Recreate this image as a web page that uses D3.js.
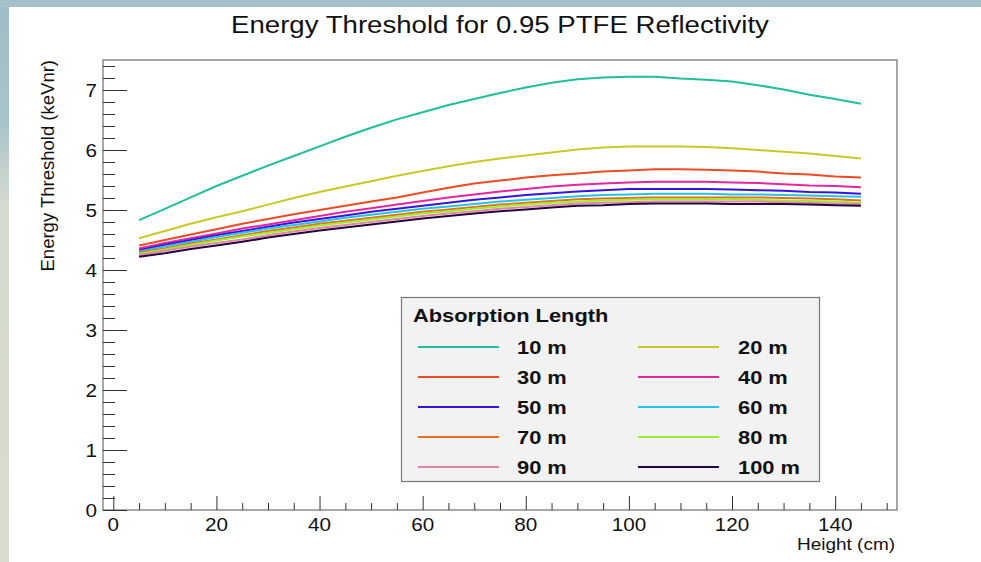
<!DOCTYPE html>
<html>
<head>
<meta charset="utf-8">
<script src="https://cdn.jsdelivr.net/npm/d3@7"></script>
<style>
html,body{margin:0;padding:0;background:#fff;}
svg{display:block;}
text{font-family:"Liberation Sans",Arial,Helvetica,sans-serif;}
</style>
</head>
<body>
<svg id="chart" width="981" height="562"></svg>
<script>
// ---- data ----
const heights = [5,10,15,20,25,30,35,40,45,50,55,60,65,70,75,80,85,90,95,100,105,110,115,120,125,130,135,140,145];
const seriesNames = ["10 m","20 m","30 m","40 m","50 m","60 m","70 m","80 m","90 m","100 m"];
const seriesColors = ["#1fbf9c","#c9c925","#f04a22","#e8259e","#3a12e0","#22c4ee","#e4701e","#9cef2e","#df86a8","#24063f"];
const s10  = [4.83,5.02,5.21,5.40,5.57,5.74,5.90,6.06,6.22,6.37,6.51,6.63,6.75,6.85,6.95,7.04,7.12,7.18,7.21,7.22,7.22,7.19,7.17,7.14,7.08,7.01,6.92,6.85,6.77];
const s20  = [4.53,4.65,4.77,4.88,4.98,5.09,5.20,5.30,5.39,5.48,5.57,5.65,5.73,5.80,5.86,5.91,5.96,6.01,6.04,6.06,6.06,6.06,6.05,6.03,6.00,5.97,5.94,5.90,5.86];
const s30  = [4.41,4.50,4.59,4.68,4.77,4.85,4.93,5.00,5.07,5.14,5.21,5.29,5.37,5.44,5.49,5.54,5.58,5.61,5.64,5.66,5.68,5.68,5.67,5.66,5.64,5.61,5.59,5.56,5.54];
const s40  = [4.36,4.45,4.53,4.61,4.69,4.76,4.83,4.90,4.97,5.03,5.09,5.15,5.21,5.26,5.31,5.35,5.39,5.42,5.44,5.46,5.47,5.47,5.47,5.46,5.45,5.43,5.41,5.40,5.38];
const s50  = [4.33,4.42,4.50,4.58,4.65,4.72,4.79,4.85,4.91,4.97,5.02,5.07,5.12,5.17,5.21,5.25,5.28,5.31,5.33,5.35,5.35,5.35,5.35,5.34,5.33,5.32,5.30,5.29,5.27];
const s60  = [4.31,4.39,4.47,4.55,4.62,4.69,4.75,4.81,4.87,4.92,4.97,5.02,5.06,5.10,5.14,5.17,5.20,5.23,5.25,5.26,5.27,5.27,5.27,5.26,5.26,5.25,5.24,5.23,5.22];
const s70  = [4.29,4.36,4.44,4.51,4.58,4.65,4.71,4.77,4.82,4.87,4.92,4.97,5.01,5.05,5.09,5.12,5.15,5.18,5.19,5.20,5.21,5.21,5.21,5.21,5.21,5.20,5.19,5.18,5.16];
const s80  = [4.27,4.34,4.42,4.49,4.56,4.62,4.68,4.74,4.79,4.84,4.89,4.94,4.98,5.02,5.06,5.09,5.12,5.14,5.16,5.17,5.18,5.18,5.18,5.18,5.17,5.16,5.15,5.14,5.12];
const s90  = [4.25,4.32,4.39,4.45,4.51,4.58,4.64,4.70,4.75,4.80,4.85,4.90,4.94,4.98,5.02,5.05,5.08,5.11,5.12,5.13,5.14,5.14,5.14,5.14,5.14,5.13,5.12,5.11,5.10];
const s100 = [4.22,4.28,4.35,4.41,4.47,4.54,4.60,4.66,4.71,4.76,4.81,4.86,4.90,4.94,4.98,5.01,5.04,5.07,5.08,5.10,5.11,5.11,5.11,5.10,5.10,5.10,5.09,5.08,5.07];
const seriesValues = [s10,s20,s30,s40,s50,s60,s70,s80,s90,s100];
const xTickValues = [0,20,40,60,80,100,120,140];
const yTickValues = [0,1,2,3,4,5,6,7];
const titleText = "Energy Threshold for 0.95 PTFE Reflectivity";
const xTitle = "Height (cm)";
const yTitle = "Energy Threshold (keVnr)";
const legendTitle = "Absorption Length";

// ---- layout ----
const svg = d3.select("#chart");
const W = 981, H = 562;
const L = 103, R = 897, T = 60, B = 510;
const SX = 1.15; // horizontal stretch of the text in the picture

function txt(parent, px, py, str, size, anchor, bold){
  return parent.append("text")
    .attr("transform",`translate(${px},${py}) scale(${SX},1)`)
    .attr("text-anchor",anchor||"start")
    .attr("font-size",size)
    .attr("font-weight",bold?"bold":"normal")
    .attr("fill","#111").text(str);
}

// background decoration (slide border)
const defs = svg.append("defs");
const g1 = defs.append("linearGradient").attr("id","lg").attr("x1",0).attr("y1",0).attr("x2",0).attr("y2",1);
g1.append("stop").attr("offset","0").attr("stop-color","#9fbcc6");
g1.append("stop").attr("offset","0.22").attr("stop-color","#a9c3ca");
g1.append("stop").attr("offset","0.36").attr("stop-color","#d5dad0");
g1.append("stop").attr("offset","1").attr("stop-color","#d9dccf");
svg.append("rect").attr("x",0).attr("y",0).attr("width",W).attr("height",H).attr("fill","#ffffff");
svg.append("rect").attr("x",0).attr("y",0).attr("width",9).attr("height",H).attr("fill","url(#lg)");
svg.append("rect").attr("x",0).attr("y",0).attr("width",W).attr("height",7).attr("fill","#a5c1c9");

const x = d3.scaleLinear().domain([-2,152]).range([L,R]);
const y = d3.scaleLinear().domain([0,7.5]).range([B,T]);

// frame
svg.append("rect").attr("x",L).attr("y",T).attr("width",R-L).attr("height",B-T)
  .attr("fill","none").attr("stroke","#6e6e6e").attr("stroke-width",1.2);

// x axis
const xMinor = d3.range(0,151,5).filter(v=>v%20!==0);
const xAxisMajor = d3.axisTop(x).tickValues(xTickValues).tickSize(14).tickFormat("");
const xAxisMinor = d3.axisTop(x).tickValues(xMinor).tickSize(7).tickFormat("");
[xAxisMajor,xAxisMinor].forEach(ax=>{
  const g = svg.append("g").attr("transform",`translate(0,${B})`).call(ax);
  g.select(".domain").remove();
  g.selectAll("line").attr("stroke","#333").attr("stroke-width",1);
});
const xl = svg.append("g");
xTickValues.forEach(v=>txt(xl, x(v), B+21, String(v), 18, "middle"));

// y axis
const yMinor = d3.range(0,7.5,0.2).map(v=>+v.toFixed(1)).filter(v=>Math.abs(v-Math.round(v))>1e-6);
const yAxisMajor = d3.axisRight(y).tickValues(yTickValues).tickSize(24).tickFormat("");
const yAxisMinor = d3.axisRight(y).tickValues(yMinor).tickSize(12).tickFormat("");
[yAxisMajor,yAxisMinor].forEach(ax=>{
  const g = svg.append("g").attr("transform",`translate(${L},0)`).call(ax);
  g.select(".domain").remove();
  g.selectAll("line").attr("stroke","#333").attr("stroke-width",1);
});
const yl = svg.append("g");
yTickValues.forEach(v=>txt(yl, L-6, y(v)+6.5, String(v), 18, "end"));

// titles
txt(svg, 500, 33, titleText, 24, "middle");
txt(svg, R-2, 550, xTitle, 16.5, "end");
svg.append("text").attr("transform",`translate(54,${T}) rotate(-90)`).attr("text-anchor","end")
  .attr("font-size",18.5).attr("fill","#111").text(yTitle);

// lines
const line = d3.line().x((d,i)=>x(heights[i])).y(d=>y(d));
svg.append("g").selectAll("path").data(seriesValues).join("path")
  .attr("d",d=>line(d)).attr("fill","none")
  .attr("stroke",(d,i)=>seriesColors[i]).attr("stroke-width",2)
  .attr("stroke-linejoin","round");

// legend
const lg = svg.append("g");
lg.append("rect").attr("x",401.5).attr("y",297.5).attr("width",418).attr("height",184)
  .attr("fill","#f2f2f2").attr("stroke","#777").attr("stroke-width",1.2);
txt(lg, 413, 322, legendTitle, 19, "start", true);
seriesNames.forEach((nm,i)=>{
  const col = i%2, row = Math.floor(i/2);
  const ly = 347 + row*30;
  const lx0 = col===0 ? 418 : 638;
  lg.append("line").attr("x1",lx0).attr("x2",lx0+81).attr("y1",ly).attr("y2",ly)
    .attr("stroke",seriesColors[i]).attr("stroke-width",2);
  txt(lg, col===0?517:738, ly+7, nm, 19, "start", true);
});
</script>
</body>
</html>
